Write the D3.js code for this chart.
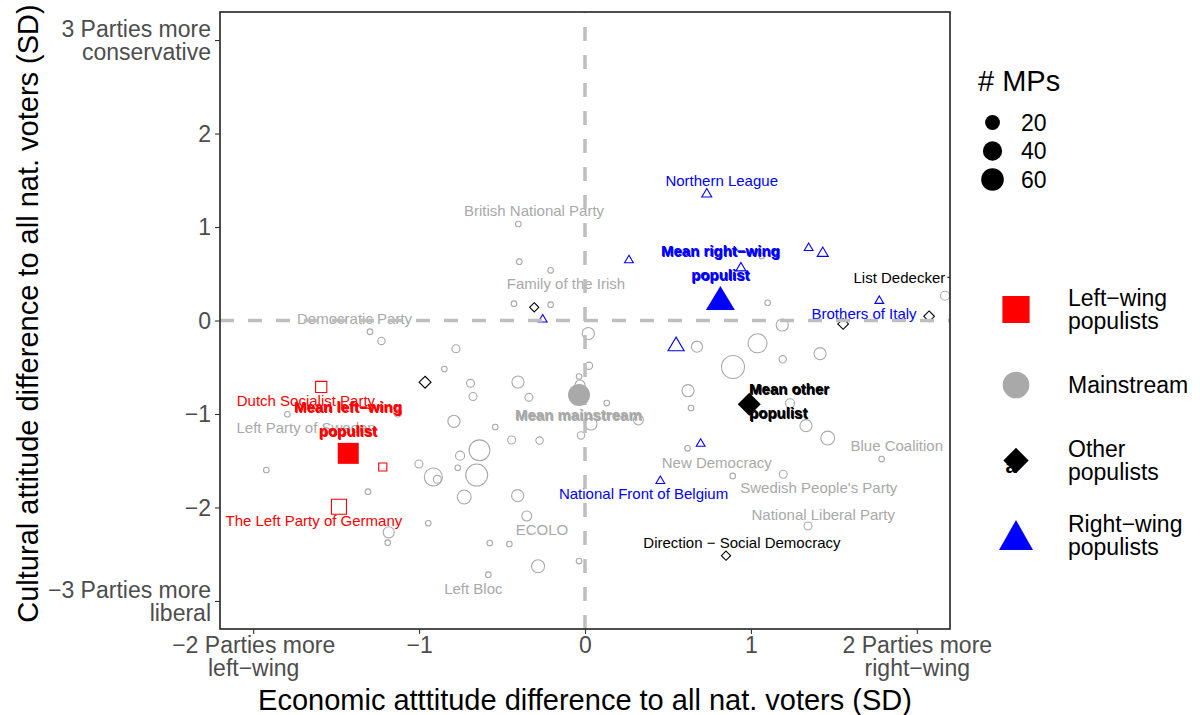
<!DOCTYPE html>
<html>
<head>
<meta charset="utf-8">
<script src="https://cdn.jsdelivr.net/npm/d3@7"></script>
<style>
  body { margin: 0; background: #fff; }
  svg { display: block; font-family: "Liberation Sans", Arial, Helvetica, sans-serif; }
</style>
</head>
<body>
<div id="chart"></div>
<script>
// each party: [economic diff (SD), cultural diff (SD), # MPs]
const mainstream = [
  [-0.402, 1.032, 1], [-0.396, 0.629, 1], [-0.207, 0.537, 1], [-0.428, 0.180, 1],
  [-0.207, 0.169, 1], [-1.296, -0.120, 1], [-1.227, -0.219, 3], [-0.778, -0.302, 4],
  [-0.848, -0.519, 1], [0.020, -0.139, 14], [0.024, -0.484, 3], [-0.036, -0.599, 1],
  [-0.690, -0.672, 4], [-0.404, -0.658, 14], [-0.030, -0.690, 8], [-0.675, -0.813, 4],
  [-0.338, -0.822, 4], [0.131, -0.883, 1], [-1.129, -0.990, 4], [-0.790, -1.078, 14],
  [0.036, -1.107, 14], [0.322, -1.064, 8], [-0.541, -1.139, 1], [-0.024, -1.230, 3],
  [-0.442, -1.278, 4], [-0.274, -1.284, 3], [-0.636, -1.389, 55], [-0.753, -1.446, 6],
  [-1.001, -1.535, 4], [-0.767, -1.575, 1], [-0.653, -1.653, 62], [-0.914, -1.674, 39],
  [-0.890, -1.699, 4], [-1.794, -1.003, 1], [-1.921, -1.599, 1], [-1.308, -1.831, 1],
  [-0.728, -1.888, 20], [-0.406, -1.874, 14], [-0.351, -2.091, 8], [-0.945, -2.169, 1],
  [-1.183, -2.266, 11], [-1.189, -2.377, 1], [-0.574, -2.380, 1], [-0.456, -2.391, 1],
  [-0.036, -2.573, 1], [-0.283, -2.629, 17], [-0.583, -2.719, 1], [1.065, 0.690, 1],
  [1.101, 0.190, 1], [2.170, 0.265, 6], [1.189, -0.048, 14], [0.675, -0.280, 11],
  [1.040, -0.244, 44], [1.192, -0.415, 3], [1.417, -0.355, 14], [0.892, -0.497, 69],
  [0.621, -0.751, 14], [0.639, -0.936, 1], [1.236, -0.886, 6], [1.332, -1.125, 14],
  [1.463, -1.257, 20], [0.618, -1.367, 1], [1.788, -1.482, 1], [0.890, -1.663, 1],
  [1.195, -1.645, 4], [1.344, -2.198, 4]
];
const leftPopulists = [
  [-1.590, -0.711, 13], [-1.219, -1.567, 5], [-1.483, -1.992, 28]
];
const otherPopulists = [
  [-0.306, 0.141, 3], [-0.964, -0.660, 7], [1.556, -0.037, 5], [2.074, 0.045, 5], [0.850, -2.516, 3]
];
const rightPopulists = [
  [0.734, 1.367, 6], [0.265, 0.658, 4], [0.940, 0.576, 6], [1.348, 0.789, 4], [1.433, 0.736, 8],
  [1.774, 0.223, 4], [-0.255, 0.024, 4], [0.549, -0.251, 23], [0.697, -1.305, 4], [0.454, -1.703, 4]
];

// group means [x, y]
const meanLeft = [-1.427, -1.421];
const meanMainstream = [-0.036, -0.797];
const meanOther = [0.990, -0.896];
const meanRight = [0.816, 0.241];

// party labels: [text, x, y, group]
const partyLabels = [
  ["British National Party", -0.307, 1.171, "main"],
  ["Family of the Irish", -0.115, 0.390, "main"],
  ["Democratic Party", -1.389, 0.016, "main"],
  ["Left Party of Sweden", -1.681, -1.150, "main"],
  ["ECOLO", -0.259, -2.238, "main"],
  ["Left Bloc", -0.673, -2.869, "main"],
  ["New Democracy", 0.794, -1.524, "main"],
  ["Blue Coalition", 1.879, -1.343, "main"],
  ["Swedish People's Party", 1.409, -1.792, "main"],
  ["National Liberal Party", 1.436, -2.073, "main"],
  ["Dutch Socialist Party", -1.682, -0.858, "left"],
  ["The Left Party of Germany", -1.634, -2.145, "left"],
  ["Northern League", 0.824, 1.492, "right"],
  ["Brothers of Italy", 1.682, 0.070, "right"],
  ["National Front of Belgium", 0.353, -1.851, "right"],
  ["List Dedecker", 1.895, 0.462, "other"],
  ["Direction − Social Democracy", 0.946, -2.380, "other"]
];

// mean labels: [lines, x, y, group, anchor]
const meanLabels = [
  [["Mean left−wing", "populist"], -1.429, -1.056, "left", "middle"],
  [["Mean mainstream"], -0.040, -1.011, "main", "middle"],
  [["Mean other", "populist"], 0.989, -0.861, "other", "start"],
  [["Mean right−wing", "populist"], 0.816, 0.615, "right", "middle"]
];

const xTicks = [-2, -1, 0, 1, 2];
const xTickLabels = [["−2 Parties more", "left−wing"], ["−1"], ["0"], ["1"], ["2 Parties more", "right−wing"]];
const yTicks = [3, 2, 1, 0, -1, -2, -3];
const yTickLabels = [["3 Parties more", "conservative"], ["2"], ["1"], ["0"], ["−1"], ["−2"], ["−3 Parties more", "liberal"]];

const sizeBreaks = [20, 40, 60];
const groupNames = [["Left−wing", "populists"], ["Mainstream"], ["Other", "populists"], ["Right−wing", "populists"]];

const colors = { left: "#ff0000", main: "#a9a9a9", other: "#000000", right: "#0000ff" };

const width = 1200, height = 715;
const panel = { left: 220, right: 950, top: 12, bottom: 629 };
const tickFont = 23, titleFont = 29;

const svg = d3.select("#chart").append("svg")
  .attr("width", width).attr("height", height);

const x = d3.scaleLinear().domain([-2.2, 2.2]).range([panel.left, panel.right]);
const y = d3.scaleLinear().domain([-3.3, 3.3]).range([panel.bottom, panel.top]);
const r = d3.scaleSqrt().domain([1, 100]).range([2.8, 13.5]);

svg.append("clipPath").attr("id", "clip")
  .append("rect")
  .attr("x", panel.left).attr("y", panel.top)
  .attr("width", panel.right - panel.left).attr("height", panel.bottom - panel.top);

const plot = svg.append("g").attr("clip-path", "url(#clip)");

// shape paths
const squarePath = (cx, cy, h) => `M${cx - h},${cy - h}h${2 * h}v${2 * h}h${-2 * h}Z`;
const diamondPath = (cx, cy, h) => `M${cx},${cy - h}L${cx + h},${cy}L${cx},${cy + h}L${cx - h},${cy}Z`;
const trianglePath = (cx, cy, b, hgt) => `M${cx},${cy - hgt / 2}L${cx + b},${cy + hgt / 2}L${cx - b},${cy + hgt / 2}Z`;

// party points
plot.append("g").selectAll("circle").data(mainstream).join("circle")
  .attr("cx", d => x(d[0])).attr("cy", d => y(d[1])).attr("r", d => r(d[2]))
  .attr("fill", "none").attr("stroke", colors.main).attr("stroke-width", 1.1);

plot.append("g").selectAll("path").data(leftPopulists).join("path")
  .attr("d", d => squarePath(x(d[0]), y(d[1]), r(d[2]) * 0.95))
  .attr("fill", "none").attr("stroke", colors.left).attr("stroke-width", 1.1);

plot.append("g").selectAll("path").data(otherPopulists).join("path")
  .attr("d", d => diamondPath(x(d[0]), y(d[1]), r(d[2]) * 1.25))
  .attr("fill", "none").attr("stroke", colors.other).attr("stroke-width", 1.1);

plot.append("g").selectAll("path").data(rightPopulists).join("path")
  .attr("d", d => { const b = r(d[2]) * 1.1; return trianglePath(x(d[0]), y(d[1]), b, b * 1.7); })
  .attr("fill", "none").attr("stroke", colors.right).attr("stroke-width", 1.1);

// party labels
plot.append("g").selectAll("text").data(partyLabels).join("text")
  .attr("x", d => x(d[1])).attr("y", d => y(d[2]))
  .attr("dy", "0.35em").attr("text-anchor", "middle")
  .attr("font-size", 15).attr("fill", d => colors[d[3]])
  .text(d => d[0]);

// List Dedecker repel segment
plot.append("line")
  .attr("x1", x(1.895) + 48).attr("x2", x(2.2)).attr("y1", y(0.462)).attr("y2", y(0.462))
  .attr("stroke", "#000").attr("stroke-width", 1);

// reference lines at 0
plot.append("line")
  .attr("x1", x(0)).attr("x2", x(0)).attr("y1", panel.bottom).attr("y2", panel.top)
  .attr("stroke", "#bebebe").attr("stroke-width", 3.5).attr("stroke-dasharray", "14,14");
plot.append("line")
  .attr("x1", panel.left).attr("x2", panel.right).attr("y1", y(0)).attr("y2", y(0))
  .attr("stroke", "#bebebe").attr("stroke-width", 3.5).attr("stroke-dasharray", "14,14");

// group means
plot.append("path").attr("d", squarePath(x(meanLeft[0]), y(meanLeft[1]), 10.5)).attr("fill", colors.left);
plot.append("circle").attr("cx", x(meanMainstream[0])).attr("cy", y(meanMainstream[1])).attr("r", 11).attr("fill", colors.main);
plot.append("path").attr("d", diamondPath(x(meanOther[0]), y(meanOther[1]), 11.5)).attr("fill", colors.other);
plot.append("path").attr("d", trianglePath(x(meanRight[0]), y(meanRight[1]), 14.5, 24)).attr("fill", colors.right);

// mean labels (drawn twice, slightly offset, as in the original)
meanLabels.forEach(([lines, lx, ly, g, anchor]) => {
  [[0, 0], [0.8, 1]].forEach(([ox, oy]) => {
    const t = plot.append("text")
      .attr("x", x(lx) + ox).attr("y", y(ly) + oy)
      .attr("text-anchor", anchor).attr("font-size", 15).attr("font-weight", "bold")
      .attr("fill", colors[g]);
    const n = lines.length;
    lines.forEach((s, i) => {
      t.append("tspan").attr("x", x(lx) + ox)
        .attr("dy", i === 0 ? `${0.35 * 15 - (n - 1) * 12}px` : "24px")
        .text(s);
    });
  });
});

// panel border
svg.append("rect")
  .attr("x", panel.left).attr("y", panel.top)
  .attr("width", panel.right - panel.left).attr("height", panel.bottom - panel.top)
  .attr("fill", "none").attr("stroke", "#222").attr("stroke-width", 1.6);

// axes
const xAxisG = svg.append("g")
  .attr("transform", `translate(0,${panel.bottom})`)
  .call(d3.axisBottom(x).tickValues(xTicks).tickSize(5).tickPadding(3));
const yAxisG = svg.append("g")
  .attr("transform", `translate(${panel.left},0)`)
  .call(d3.axisLeft(y).tickValues(yTicks).tickSize(5).tickPadding(4));

[xAxisG, yAxisG].forEach(g => {
  g.select(".domain").remove();
  g.attr("font-size", tickFont).attr("font-family", null);
  g.selectAll(".tick line").attr("stroke", "#333").attr("stroke-width", 1.1);
  g.selectAll(".tick text").attr("fill", "#4d4d4d");
});

xAxisG.selectAll(".tick text").each(function (d, i) {
  const t = d3.select(this).text(null).attr("dy", null);
  xTickLabels[i].forEach((s, j) => {
    t.append("tspan").attr("x", 0)
      .attr("dy", j === 0 ? `${0.71 * tickFont}px` : "23px").text(s);
  });
});
yAxisG.selectAll(".tick text").each(function (d, i) {
  const t = d3.select(this).text(null).attr("dy", null);
  const xPos = t.attr("x");
  const lines = yTickLabels[i];
  lines.forEach((s, j) => {
    t.append("tspan").attr("x", xPos)
      .attr("dy", j === 0 ? `${0.33 * tickFont - (lines.length - 1) * 11.5}px` : "23px").text(s);
  });
});

// axis titles
svg.append("text")
  .attr("x", (panel.left + panel.right) / 2).attr("y", 710)
  .attr("text-anchor", "middle").attr("font-size", titleFont)
  .text("Economic atttitude difference to all nat. voters (SD)");
svg.append("text")
  .attr("transform", `translate(38,${(panel.top + panel.bottom) / 2 - 7}) rotate(-90)`)
  .attr("text-anchor", "middle").attr("font-size", titleFont)
  .text("Cultural attitude difference to all nat. voters (SD)");

// size legend
const sizeLeg = svg.append("g");
sizeLeg.append("text").attr("x", 978).attr("y", 91).attr("font-size", titleFont).text("# MPs");
sizeBreaks.forEach((v, i) => {
  const cy = 122.5 + i * 28.5;
  sizeLeg.append("circle").attr("cx", 992.5).attr("cy", cy).attr("r", r(v) + 0.5).attr("fill", "#000");
  sizeLeg.append("text").attr("x", 1021).attr("y", cy + 8).attr("font-size", tickFont).text(v);
});

// group legend
const keyX = 1016;
const keyY = [309.5, 385, 460.5, 535];
const leg = svg.append("g");
leg.append("text").attr("x", keyX - 5).attr("y", keyY[2] + 12.5).attr("text-anchor", "middle")
  .attr("font-size", 20).attr("font-weight", "bold").attr("fill", colors.other).text("a");
leg.append("text").attr("x", keyX - 3).attr("y", keyY[3] + 14).attr("text-anchor", "middle")
  .attr("font-size", 20).attr("font-weight", "bold").attr("fill", colors.right).text("a");
leg.append("path").attr("d", squarePath(keyX, keyY[0], 13.6)).attr("fill", colors.left);
leg.append("circle").attr("cx", keyX).attr("cy", keyY[1]).attr("r", 13.3).attr("fill", colors.main);
leg.append("path").attr("d", diamondPath(keyX, keyY[2], 12.7)).attr("fill", colors.other);
leg.append("path").attr("d", trianglePath(keyX, keyY[3], 17, 30)).attr("fill", colors.right);

groupNames.forEach((lines, i) => {
  const t = leg.append("text").attr("x", 1068).attr("y", keyY[i]).attr("font-size", tickFont);
  lines.forEach((s, j) => {
    t.append("tspan").attr("x", 1068)
      .attr("dy", j === 0 ? `${0.35 * tickFont - (lines.length - 1) * 11.5}px` : "23px")
      .text(s);
  });
});
</script>
</body>
</html>
